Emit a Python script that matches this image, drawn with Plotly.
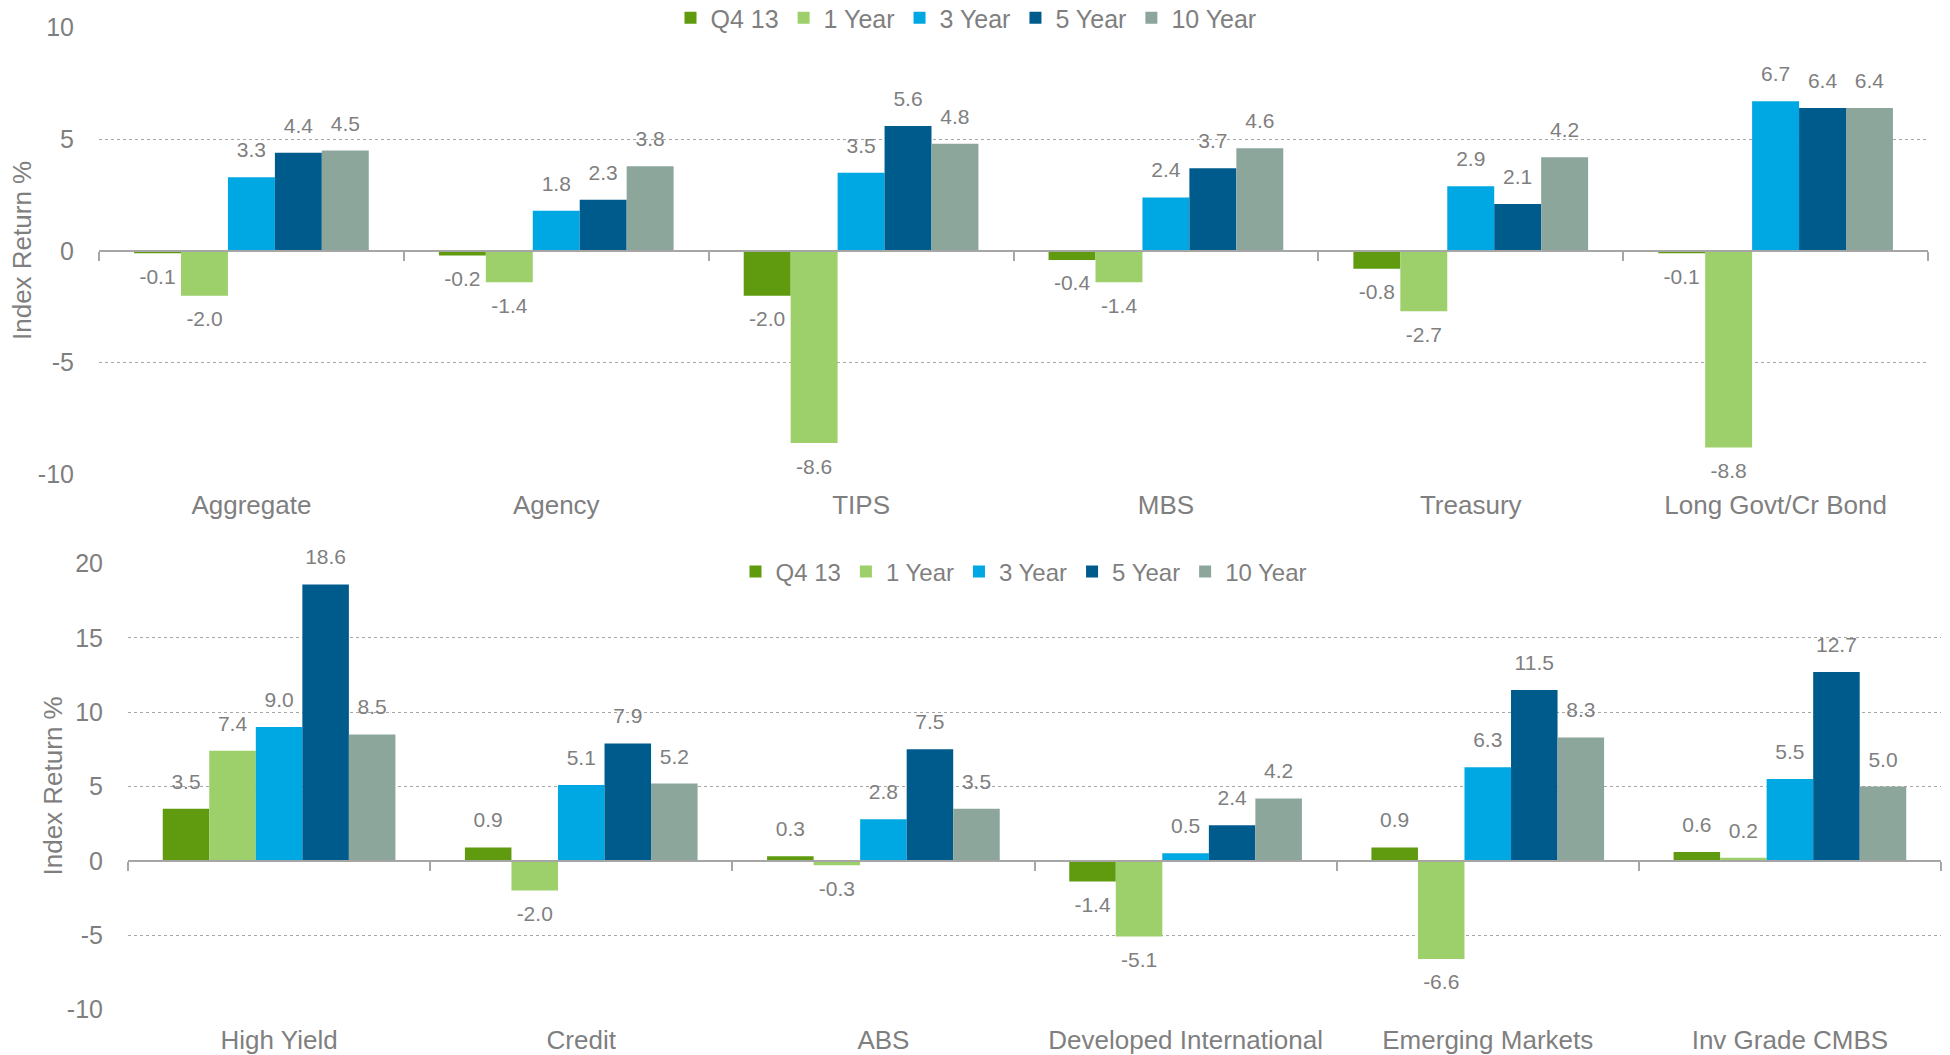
import plotly.graph_objects as go

# Series names and colours
series = ['Q4 13', '1 Year', '3 Year', '5 Year', '10 Year']
colors = ['#5F9A0F', '#9DCF6A', '#00A8E3', '#005B8D', '#8CA69C']

# Top panel: US fixed income
top_categories = ['Aggregate', 'Agency', 'TIPS', 'MBS', 'Treasury', 'Long Govt/Cr Bond']
top_q4 = [-0.1, -0.2, -2.0, -0.4, -0.8, -0.1]
top_1y = [-2.0, -1.4, -8.6, -1.4, -2.7, -8.8]
top_3y = [3.3, 1.8, 3.5, 2.4, 2.9, 6.7]
top_5y = [4.4, 2.3, 5.6, 3.7, 2.1, 6.4]
top_10y = [4.5, 3.8, 4.8, 4.6, 4.2, 6.4]

# Bottom panel: other fixed income
bot_categories = ['High Yield', 'Credit', 'ABS', 'Developed International', 'Emerging Markets', 'Inv Grade CMBS']
bot_q4 = [3.5, 0.9, 0.3, -1.4, 0.9, 0.6]
bot_1y = [7.4, -2.0, -0.3, -5.1, -6.6, 0.2]
bot_3y = [9.0, 5.1, 2.8, 0.5, 6.3, 5.5]
bot_5y = [18.6, 7.9, 7.5, 2.4, 11.5, 12.7]
bot_10y = [8.5, 5.2, 3.5, 4.2, 8.3, 5.0]

top_ticks = [-10, -5, 0, 5, 10]
top_ticktext = ['-10', '-5', '0', '5', '10']
bot_ticks = [-10, -5, 0, 5, 10, 15, 20]
bot_ticktext = ['-10', '-5', '0', '5', '10', '15', '20']

top_range = [-10.03, 10.03]
bot_range = [-10.04, 20.04]

W, H = 1950, 1055
GRAY = '#7F7F7F'
FONT = 'Liberation Sans, Arial, sans-serif'

# panel domains (paper fractions)
top_x = [99 / W, 1928 / W]
top_y = [1 - 475 / H, 1 - 27 / H]
bot_x = [128 / W, 1941 / W]
bot_y = [1 - 1010 / H, 1 - 563 / H]


def zero_position(dom, rng):
    return dom[0] + (0 - rng[0]) / (rng[1] - rng[0]) * (dom[1] - dom[0])


fig = go.Figure()

top_values = [top_q4, top_1y, top_3y, top_5y, top_10y]
bot_values = [bot_q4, bot_1y, bot_3y, bot_5y, bot_10y]

panels = [
    (top_categories, top_values, 'x', 'y', 'legend'),
    (bot_categories, bot_values, 'x2', 'y2', 'legend2'),
]

for cats, values, xa, ya, lg in panels:
    for name, color, vals in zip(series, colors, values):
        fig.add_trace(go.Bar(
            x=cats, y=vals, name=name, marker=dict(color=color, line=dict(width=0)),
            xaxis=xa, yaxis=ya, legend=lg, hoverinfo='x+y+name',
        ))
    # value labels, grouped the same way as the bars
    for name, vals in zip(series, values):
        fig.add_trace(go.Scatter(
            x=cats, y=vals, mode='markers+text',
            text=[f'{v:.1f}' for v in vals],
            textposition=['top center' if v >= 0 else 'bottom center' for v in vals],
            textfont=dict(size=21, color=GRAY, family=FONT),
            marker=dict(size=22, opacity=0), cliponaxis=False,
            xaxis=xa, yaxis=ya, showlegend=False, hoverinfo='skip',
        ))

# invisible helpers so the zero-line axes get their categories
fig.add_trace(go.Scatter(x=top_categories, y=[0] * 6, xaxis='x3', yaxis='y', mode='markers',
                         marker=dict(opacity=0), showlegend=False, hoverinfo='skip'))
fig.add_trace(go.Scatter(x=bot_categories, y=[0] * 6, xaxis='x4', yaxis='y2', mode='markers',
                         marker=dict(opacity=0), showlegend=False, hoverinfo='skip'))

cat_axis = dict(type='category', showline=False, showgrid=False, ticks='', zeroline=False,
                tickfont=dict(size=26, color=GRAY, family=FONT), range=[-0.5, 5.5],
                automargin=False, ticklabelstandoff=12)
zero_axis = dict(type='category', showline=True, linecolor='#A6A6A6', linewidth=1.5,
                 ticks='outside', tickson='boundaries', ticklen=9, tickcolor='#A6A6A6', tickwidth=1.5,
                 showticklabels=False, showgrid=False, zeroline=False, range=[-0.5, 5.5],
                 anchor='free', automargin=False)
val_axis = dict(showgrid=True, gridcolor='#A6A6A6', griddash='dot', gridwidth=1, zeroline=False,
                showline=False, tickmode='array', tickfont=dict(size=25, color=GRAY, family=FONT),
                ticklabelstandoff=24, automargin=False)
legend_style = dict(orientation='h', xanchor='center', yanchor='middle', bgcolor='white',
                    itemwidth=30, traceorder='normal', xref='paper', yref='paper')

# y-axis titles placed as rotated annotations
title_font = dict(size=26, color=GRAY, family=FONT)
annotations = [
    dict(text='Index Return %', x=22 / W, y=sum(top_y) / 2, xref='paper', yref='paper',
         textangle=-90, showarrow=False, font=title_font, xanchor='center', yanchor='middle'),
    dict(text='Index Return %', x=52 / W, y=sum(bot_y) / 2, xref='paper', yref='paper',
         textangle=-90, showarrow=False, font=title_font, xanchor='center', yanchor='middle'),
]

fig.update_layout(
    width=W, height=H,
    margin=dict(l=0, r=0, t=0, b=0, autoexpand=False),
    paper_bgcolor='white', plot_bgcolor='white',
    barmode='group', bargap=0.23, bargroupgap=0,
    scattermode='group', scattergap=0.23,
    font=dict(family=FONT, color=GRAY),
    xaxis=dict(cat_axis, domain=top_x, anchor='y', categoryarray=top_categories),
    xaxis2=dict(cat_axis, domain=bot_x, anchor='y2', categoryarray=bot_categories),
    xaxis3=dict(zero_axis, domain=top_x, overlaying='x', categoryarray=top_categories,
                position=zero_position(top_y, top_range)),
    xaxis4=dict(zero_axis, domain=bot_x, overlaying='x2', categoryarray=bot_categories,
                position=zero_position(bot_y, bot_range)),
    yaxis=dict(val_axis, domain=top_y, anchor='x', range=top_range,
               tickvals=top_ticks, ticktext=top_ticktext),
    yaxis2=dict(val_axis, domain=bot_y, anchor='x2', range=bot_range,
                tickvals=bot_ticks, ticktext=bot_ticktext),
    legend=dict(legend_style, x=966 / W, y=1 - 18 / H,
                font=dict(size=25, color=GRAY, family=FONT)),
    legend2=dict(legend_style, x=1024 / W, y=1 - 572 / H,
                 font=dict(size=24, color=GRAY, family=FONT)),
    annotations=annotations,
)

# drop the browser's default page margin so the figure sits at the window origin
fig.write_html('out.html', config={'displayModeBar': False},
               post_script="document.body.style.margin='0px';")
